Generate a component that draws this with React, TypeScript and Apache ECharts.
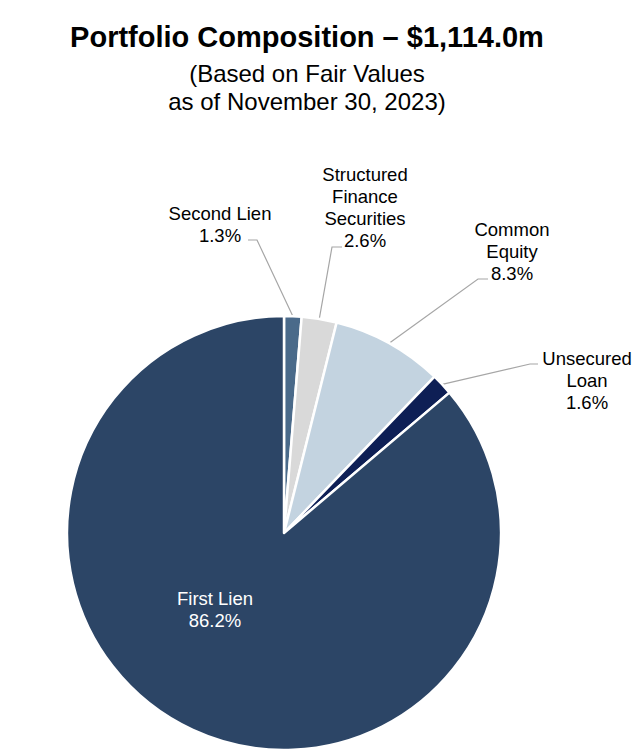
import React, { useEffect, useRef } from "react";
import * as echarts from "echarts";

const TITLE = "Portfolio Composition – $1,114.0m";
const SUBTITLE_LINES = ["(Based on Fair Values", "as of November 30, 2023)"];

const categories = [
  "Second Lien",
  "Structured\nFinance\nSecurities",
  "Common\nEquity",
  "Unsecured\nLoan",
  "First Lien",
];
const values = [1.3, 2.6, 8.3, 1.6, 86.2];
const colors = ["#4a6a8a", "#d9d9d9", "#c3d3e0", "#0e1f55", "#2c4566"];

// label layout (block centre) and leader-line knee points, page pixels
const labelPos: [number, number][] = [
  [220, 224],
  [365, 207],
  [512, 251],
  [587, 380],
  [215, 609],
];
const leaderKnees: ([number, number][] | null)[] = [
  [[257, 240], [248, 240]],
  [[332, 247], [342, 247]],
  [[478, 279], [488, 279]],
  [[530, 364], [538, 364]],
  null,
];

export default function App() {
  const ref = useRef<HTMLDivElement>(null);
  useEffect(() => {
    if (!ref.current) return;
    const chart = echarts.init(ref.current, undefined, { renderer: "svg" });
    const font = "'Liberation Sans', Arial, sans-serif";
    chart.setOption({
      animation: false,
      backgroundColor: "#ffffff",
      graphic: [
        {
          type: "text",
          x: 307,
          y: 37,
          style: {
            text: TITLE,
            fontFamily: font,
            fontWeight: "bold",
            fontSize: 29,
            fill: "#000",
            textAlign: "center",
            textVerticalAlign: "middle",
          },
        },
        ...SUBTITLE_LINES.map((t, i) => ({
          type: "text",
          x: 307,
          y: 73 + i * 28,
          style: {
            text: t,
            fontFamily: font,
            fontSize: 24,
            fill: "#000",
            textAlign: "center",
            textVerticalAlign: "middle",
          },
        })),
      ],
      series: [
        {
          type: "pie",
          center: [284, 533],
          radius: 217,
          startAngle: 90,
          clockwise: true,
          avoidLabelOverlap: false,
          itemStyle: { borderColor: "#ffffff", borderWidth: 2.5 },
          label: {
            show: true,
            position: "outside",
            fontFamily: font,
            fontSize: 18.5,
            lineHeight: 22,
            color: "#000",
            align: "center",
            formatter: (p: any) => `${p.name}\n${p.value.toFixed(1)}%`,
          },
          labelLine: {
            show: true,
            lineStyle: { color: "#a6a6a6", width: 1.2 },
          },
          labelLayout: (params: any) => {
            const i = params.dataIndex;
            const pos = labelPos[i];
            const knees = leaderKnees[i];
            const out: any = {
              x: pos[0],
              y: pos[1],
              align: "center",
              verticalAlign: "middle",
            };
            if (knees && params.labelLinePoints) {
              out.labelLinePoints = [params.labelLinePoints[0], knees[0], knees[1]];
            }
            return out;
          },
          emphasis: { disabled: true },
          data: categories.map((name, i) => ({
            name,
            value: values[i],
            itemStyle: { color: colors[i] },
            ...(i === 4
              ? { label: { color: "#ffffff" }, labelLine: { show: false } }
              : {}),
          })),
        },
      ],
    });
    return () => chart.dispose();
  }, []);
  return (
    <div
      ref={ref}
      style={{ position: "fixed", left: 0, top: 0, width: 640, height: 755 }}
    />
  );
}
